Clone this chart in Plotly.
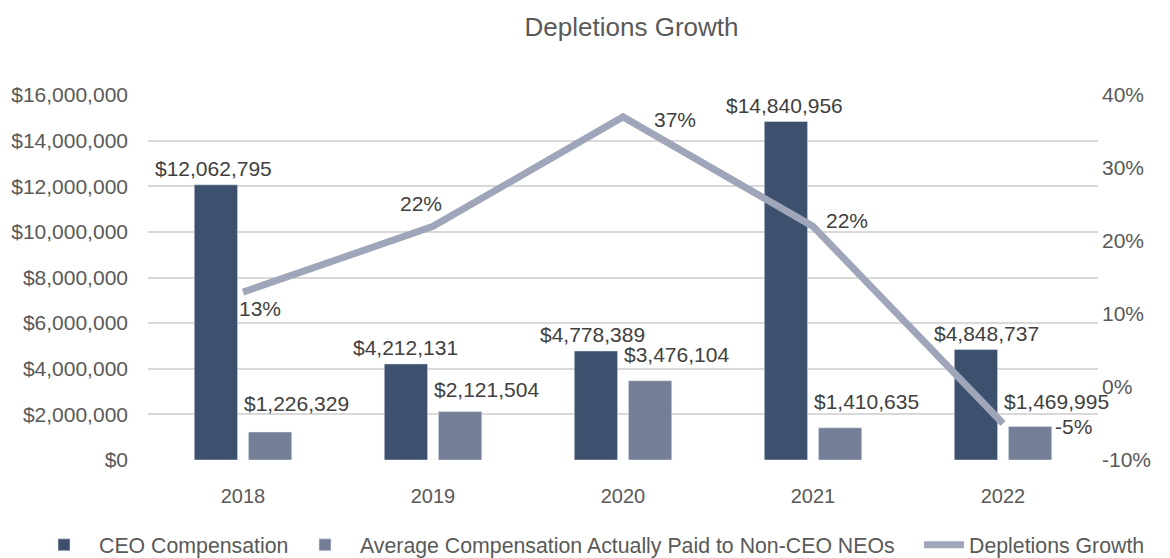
import plotly.graph_objects as go

years = ["2018", "2019", "2020", "2021", "2022"]
ceo_comp = [12062795, 4212131, 4778389, 14840956, 4848737]
neo_comp = [1226329, 2121504, 3476104, 1410635, 1469995]
depletions = [13, 22, 37, 22, -5]
pct_ticks = [-10, 0, 10, 20, 30, 40]
pct_tick_labels = ["-10%", "0%", "10%", "20%", "30%", "40%"]

CEO_COLOR = "#3d506e"
NEO_COLOR = "#747f97"
LINE_COLOR = "#a0a6b9"
TEXT = "#404040"
TICK = "#595959"
FONT = "Liberation Sans, Arial, sans-serif"
FS = 21

# The page body has an 8px margin, so the figure is sized to the visible area.
W, H = 1162, 550

fig = go.Figure()
fig.add_trace(go.Bar(x=years, y=ceo_comp, name="CEO Compensation",
                     marker=dict(color=CEO_COLOR), yaxis="y", legend="legend"))
fig.add_trace(go.Bar(x=years, y=neo_comp,
                     name="Average Compensation Actually Paid to Non-CEO NEOs",
                     marker=dict(color=NEO_COLOR), yaxis="y", legend="legend2"))
fig.add_trace(go.Scatter(x=years, y=depletions, name="Depletions Growth",
                         mode="lines", line=dict(color=LINE_COLOR, width=7),
                         yaxis="y2", legend="legend3"))

annotations = []
# CEO bar labels
ceo_xshift = [-30, -28, -31, -29, -17]
for i, v in enumerate(ceo_comp):
    annotations.append(dict(x=i, y=v, xref="x", yref="y", text=f"${v:,}",
                            showarrow=False, xshift=ceo_xshift[i], yshift=16,
                            yanchor="middle", font=dict(size=FS, color=TEXT, family=FONT)))
# NEO bar labels
neo_yshift = [29, 22, 26, 26, 25]
for i, v in enumerate(neo_comp):
    annotations.append(dict(x=i, y=v, xref="x", yref="y", text=f"${v:,}",
                            showarrow=False, xshift=53, yshift=neo_yshift[i],
                            yanchor="middle", font=dict(size=FS, color=TEXT, family=FONT)))
# Line labels
line_shift = [(17, -16), (-12, 23), (52, -3), (34, 6), (70, -3)]
for i, v in enumerate(depletions):
    dx, dy = line_shift[i]
    annotations.append(dict(x=i, y=v, xref="x", yref="y2", text=f"{v}%",
                            showarrow=False, xshift=dx, yshift=dy,
                            yanchor="middle", font=dict(size=FS, color=TEXT, family=FONT)))

leg_common = dict(orientation="h", xref="container", yref="container",
                  xanchor="left", y=1 - 537 / H, yanchor="middle",
                  font=dict(size=21.3, color=TICK), bgcolor="rgba(0,0,0,0)")

fig.update_layout(
    width=W, height=H,
    margin=dict(l=140, r=72, t=87, b=98, autoexpand=False),
    paper_bgcolor="white", plot_bgcolor="white",
    font=dict(family=FONT, size=FS, color=TICK),
    title=dict(text="Depletions Growth", x=0.509, xref="paper", xanchor="center",
               y=1 - 19 / H, yref="container", yanchor="middle",
               font=dict(size=26, color=TICK, family=FONT)),
    barmode="group", bargap=0.43, bargroupgap=0.2,
    xaxis=dict(type="category", range=[-0.5, 4.5], autorange=False,
               showgrid=False, showline=False, ticks="", automargin=False,
               tickfont=dict(size=20, color=TICK), ticklabelstandoff=22),
    yaxis=dict(range=[0, 16000000], dtick=2000000, tickprefix="$", tickformat=",d",
               showgrid=True, gridcolor="#d9d9d9", gridwidth=1.5, zeroline=False,
               showline=False, ticks="", tickfont=dict(size=FS, color=TICK),
               ticklabelstandoff=19, automargin=False),
    yaxis2=dict(range=[-10, 40], tickvals=pct_ticks, ticktext=pct_tick_labels,
                overlaying="y", side="right", automargin=False, ticklabelstandoff=3,
                showgrid=False, zeroline=False, showline=False, ticks="",
                tickfont=dict(size=FS, color=TICK)),
    legend=dict(x=21 / W, itemwidth=60, **leg_common),
    legend2=dict(x=282 / W, itemwidth=60, **leg_common),
    legend3=dict(x=911 / W, itemwidth=40, **leg_common),
    annotations=annotations,
    showlegend=True,
)

fig.write_html("out.html")
